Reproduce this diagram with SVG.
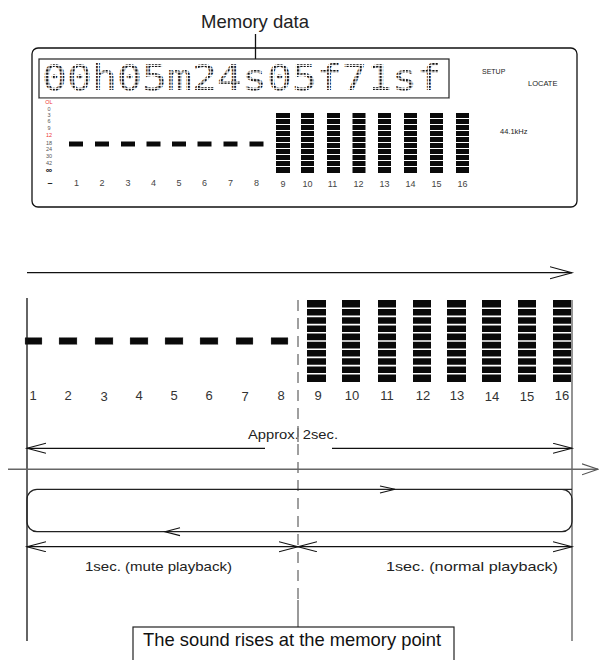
<svg xmlns="http://www.w3.org/2000/svg" width="599" height="660" viewBox="0 0 599 660">
<defs>
<style>
.t{font-family:"Liberation Sans",Arial,sans-serif;fill:#222}
.ln{stroke:#111;stroke-width:1.3;fill:none}
.gr{stroke:#666;stroke-width:1.4;fill:none}
.seg{fill:#0a0a0a}
.dseg{fill:#0a0a0a;stroke:#888;stroke-width:0.6;stroke-dasharray:1 1}
.lbl{font-family:"Liberation Sans",Arial,sans-serif;font-size:9px;fill:#444;text-anchor:middle}
.lbl2{font-family:"Liberation Sans",Arial,sans-serif;font-size:13px;fill:#333;text-anchor:middle}
.sc{font-family:"Liberation Sans",Arial,sans-serif;font-size:5.5px;fill:#555;text-anchor:middle}
</style>
<pattern id="dots" width="3.3" height="3.3" patternUnits="userSpaceOnUse"><rect width="2.2" height="2.2" fill="#111"/></pattern>
<marker id="ah" markerUnits="userSpaceOnUse" markerWidth="22" markerHeight="14" refX="19" refY="5.5" orient="auto-start-reverse" viewBox="0 0 22 14"><path d="M0,0.5 L19,5.5 L0,10.5" fill="none" stroke="#111" stroke-width="1.1"/></marker>
<marker id="ahg" markerUnits="userSpaceOnUse" markerWidth="22" markerHeight="14" refX="16" refY="6" orient="auto" viewBox="0 0 22 14"><path d="M0,0.5 L16,6 L0,11.5" fill="none" stroke="#555" stroke-width="1.1"/></marker>
<marker id="ahb" markerUnits="userSpaceOnUse" markerWidth="26" markerHeight="16" refX="22" refY="6.5" orient="auto" viewBox="0 0 26 16"><path d="M0,0.5 L22,6.5 L0,12.5" fill="none" stroke="#111" stroke-width="1.1"/></marker>
</defs>
<rect width="599" height="660" fill="#fff"/>

<g id="title">
<text class="t" x="255" y="28" font-size="18.5" text-anchor="middle">Memory data</text>
<line class="ln" x1="255.5" y1="34" x2="255.5" y2="59"/>
</g>

<g id="display">
<rect x="32" y="48" width="545" height="159" rx="6" class="ln"/>
<rect x="39" y="59" width="410" height="39" fill="none" stroke="#222" stroke-width="1.2"/>
<line x1="39" y1="98.5" x2="449" y2="98.5" stroke="#999" stroke-width="1.2"/>
<text x="42" y="89.5" font-family="'DejaVu Sans Mono',monospace" font-size="36" textLength="400" lengthAdjust="spacingAndGlyphs" fill="url(#dots)">00h05m24s05f71sf</text>
<text class="t" x="482" y="74" font-size="7">SETUP</text>
<text class="t" x="528" y="86" font-size="7.5">LOCATE</text>
<text class="t" x="500" y="134" font-size="7.5">44.1kHz</text>
</g>

<g id="scale">
<text class="sc" x="49" y="103.5" style="fill:#e33">OL</text>
<text class="sc" x="49" y="111">0</text>
<text class="sc" x="49" y="117">3</text>
<text class="sc" x="49" y="122.5">6</text>
<text class="sc" x="49" y="130">9</text>
<text class="sc" x="49" y="137" style="fill:#e33">12</text>
<text class="sc" x="49" y="144.5">18</text>
<text class="sc" x="49" y="151">24</text>
<text class="sc" x="49" y="158">30</text>
<text class="sc" x="49" y="165">42</text>
<text class="sc" x="49" y="173" style="font-size:9px;font-weight:bold;fill:#111">∞</text>
<text class="lbl" x="50" y="186" style="font-weight:bold;fill:#222">–</text>
</g>

<g id="meter-top">
<rect class="seg" x="69" y="141.5" width="14" height="5"/>
<rect class="seg" x="95" y="141.5" width="14" height="5"/>
<rect class="seg" x="121" y="141.5" width="14" height="5"/>
<rect class="seg" x="146.5" y="141.5" width="14" height="5"/>
<rect class="seg" x="172" y="141.5" width="14" height="5"/>
<rect class="seg" x="197.5" y="141.5" width="14" height="5"/>
<rect class="seg" x="223.5" y="141.5" width="14" height="5"/>
<rect class="seg" x="249.5" y="141.5" width="14" height="5"/>
<g id="top-bars">
<rect x="276" y="113" width="14" height="60" class="seg"/>
<rect x="301" y="113" width="13" height="60" class="seg"/>
<rect x="327" y="113" width="13" height="60" class="seg"/>
<rect x="352.5" y="113" width="13" height="60" class="seg"/>
<rect x="378" y="113" width="13" height="60" class="seg"/>
<rect x="404" y="113" width="13" height="60" class="seg"/>
<rect x="430" y="113" width="13" height="60" class="seg"/>
<rect x="456" y="113" width="13" height="60" class="seg"/>
<path d="M270,118.5H475M270,124.5H475M270,130.5H475M270,136.5H475M270,142.5H475M270,148.5H475M270,154.5H475M270,160.5H475M270,166.5H475" stroke="#fff" stroke-width="1.2"/>
</g>
<text class="lbl" x="76.5" y="186">1</text>
<text class="lbl" x="102" y="186">2</text>
<text class="lbl" x="128" y="186">3</text>
<text class="lbl" x="153.5" y="186">4</text>
<text class="lbl" x="179" y="186">5</text>
<text class="lbl" x="204.5" y="186">6</text>
<text class="lbl" x="230.5" y="186">7</text>
<text class="lbl" x="256.5" y="186">8</text>
<text class="lbl" x="283" y="187">9</text>
<text class="lbl" x="307.5" y="187">10</text>
<text class="lbl" x="332.5" y="187">11</text>
<text class="lbl" x="358.5" y="187">12</text>
<text class="lbl" x="384.5" y="187">13</text>
<text class="lbl" x="410.5" y="187">14</text>
<text class="lbl" x="436.5" y="187">15</text>
<text class="lbl" x="462.5" y="187">16</text>
</g>

<g id="meter-timeline">
<rect class="dseg" x="25" y="337.5" width="17" height="7"/>
<rect class="dseg" x="59" y="337.5" width="18" height="7"/>
<rect class="dseg" x="95" y="337.5" width="18" height="7"/>
<rect class="dseg" x="130" y="337.5" width="18" height="7"/>
<rect class="dseg" x="165" y="337.5" width="18" height="7"/>
<rect class="dseg" x="200" y="337.5" width="18" height="7"/>
<rect class="dseg" x="236" y="337.5" width="17" height="7"/>
<rect class="dseg" x="271" y="337.5" width="17" height="7"/>
<g id="timeline-bars">
<rect x="307" y="300" width="19" height="82" class="seg"/>
<rect x="342" y="300" width="18" height="82" class="seg"/>
<rect x="378" y="300" width="18" height="82" class="seg"/>
<rect x="413" y="300" width="18" height="82" class="seg"/>
<rect x="447" y="300" width="19" height="82" class="seg"/>
<rect x="482" y="300" width="19" height="82" class="seg"/>
<rect x="518" y="300" width="18" height="82" class="seg"/>
<rect x="553" y="300" width="18" height="82" class="seg"/>
<path d="M300,308.2H575M300,316.4H575M300,324.6H575M300,332.8H575M300,341H575M300,349.2H575M300,357.4H575M300,365.6H575M300,373.8H575" stroke="#fff" stroke-width="1.6"/>
</g>
<text class="lbl2" x="33" y="399.5">1</text>
<text class="lbl2" x="68" y="399.5">2</text>
<text class="lbl2" x="104" y="401">3</text>
<text class="lbl2" x="139" y="399.5">4</text>
<text class="lbl2" x="174" y="399.5">5</text>
<text class="lbl2" x="209" y="399.5">6</text>
<text class="lbl2" x="245" y="401">7</text>
<text class="lbl2" x="281" y="399.5">8</text>
<text class="lbl2" x="318" y="399.5">9</text>
<text class="lbl2" x="352" y="399.5">10</text>
<text class="lbl2" x="387" y="399.5">11</text>
<text class="lbl2" x="423" y="399.5">12</text>
<text class="lbl2" x="457" y="399.5">13</text>
<text class="lbl2" x="492" y="401">14</text>
<text class="lbl2" x="527" y="401">15</text>
<text class="lbl2" x="562" y="400">16</text>
</g>

<g id="connectors">
<line class="ln" x1="27" y1="272.7" x2="572" y2="272.7" marker-end="url(#ahb)"/>
<line class="ln" x1="27" y1="298" x2="27" y2="641"/>
<line class="gr" x1="572" y1="300" x2="572" y2="641"/>
<line x1="298" y1="300" x2="298" y2="599" stroke="#777" stroke-width="1.4" stroke-dasharray="11 7"/>
<line x1="298" y1="600" x2="298" y2="627" stroke="#555" stroke-width="1.2"/>
<line class="ln" x1="27" y1="448.3" x2="265" y2="448.3" marker-start="url(#ah)"/>
<line class="ln" x1="332" y1="448.3" x2="572" y2="448.3" marker-end="url(#ah)"/>
<line class="gr" x1="8" y1="469.3" x2="598" y2="469.3" marker-end="url(#ahg)"/>
<path d="M572,489.3 H37 A10,10 0 0 0 27,499.3 V521.7 A10,10 0 0 0 37,531.7 H562 A10,10 0 0 0 572,521.7 V499.3 A10,10 0 0 0 562,489.3 Z" fill="none" stroke="#222" stroke-width="1.2"/>
<polyline points="380,486 395,489.3 380,493" fill="none" stroke="#111" stroke-width="1.1"/>
<polyline points="180,527.8 165,531.7 180,535.6" fill="none" stroke="#111" stroke-width="1.1"/>
<line class="ln" x1="27" y1="546.7" x2="298" y2="546.7" marker-start="url(#ah)" marker-end="url(#ah)"/>
<line class="ln" x1="298" y1="546.7" x2="572" y2="546.7" marker-start="url(#ah)" marker-end="url(#ah)"/>
</g>

<g id="labels">
<text class="t" x="293" y="439" font-size="13.5" text-anchor="middle" textLength="90" lengthAdjust="spacingAndGlyphs">Approx. 2sec.</text>
<line x1="298" y1="428" x2="298" y2="442" stroke="#777" stroke-width="1.4"/>
<text class="t" x="158.5" y="571" font-size="13" text-anchor="middle" textLength="147" lengthAdjust="spacingAndGlyphs">1sec. (mute playback)</text>
<text class="t" x="472" y="571" font-size="13" text-anchor="middle" textLength="172" lengthAdjust="spacingAndGlyphs">1sec. (normal playback)</text>
</g>

<g id="note">
<rect x="133" y="627" width="321" height="40" fill="#fff" stroke="#222" stroke-width="1.2"/>
<text class="t" x="292" y="646" font-size="18.5" text-anchor="middle" textLength="298" lengthAdjust="spacingAndGlyphs" style="fill:#111">The sound rises at the memory point</text>
</g>
</svg>
